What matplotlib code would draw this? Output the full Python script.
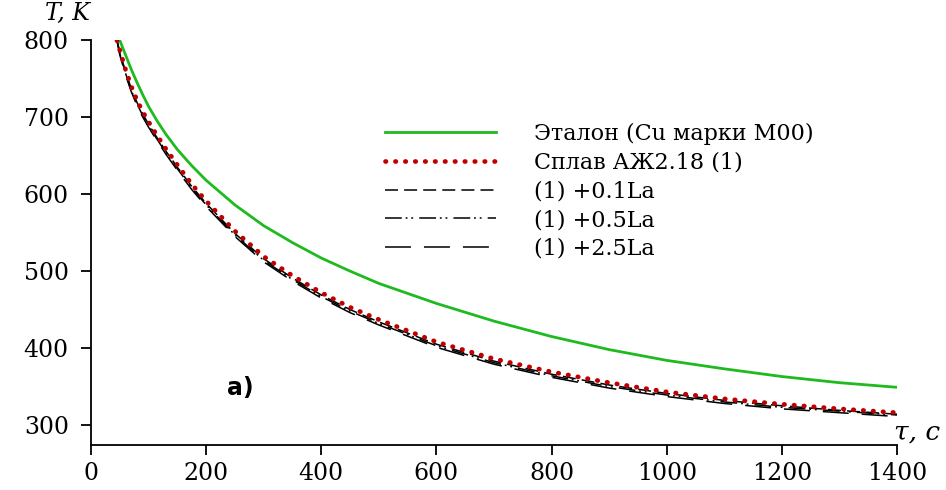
import numpy as np
import matplotlib
matplotlib.use('Agg')
import matplotlib.pyplot as plt

# Cooling curves, time in seconds and temperature in K
tau_ref = [50, 60, 70, 80, 90, 100, 115, 130, 150, 175, 200, 250, 300, 350,
           400, 450, 500, 600, 700, 800, 900, 1000, 1100, 1200, 1300, 1400]
T_ref   = [800, 781, 762, 745, 729, 714, 695, 678, 658, 637, 618, 586, 559, 537,
           517, 500, 484, 458, 435, 415, 398, 384, 373, 363, 355, 349]

tau_alloy = [45, 50, 60, 70, 80, 90, 100, 115, 130, 150, 175, 200, 250, 300,
             350, 400, 450, 500, 600, 700, 800, 900, 1000, 1100, 1200, 1300, 1400]
T_alloy   = [800, 787, 762, 740, 722, 707, 694, 676, 659, 638, 613, 591, 552, 519,
             494, 472, 453, 437, 408, 386, 369, 355, 343, 334, 327, 321, 316]
T_la01    = [800, 785, 759, 737, 719, 704, 691, 673, 656, 635, 610, 588, 549, 516,
             491, 469, 450, 434, 405, 383, 366, 352, 341, 332, 325, 319, 314]
T_la05    = [800, 783, 757, 735, 717, 702, 689, 671, 654, 633, 608, 586, 547, 514,
             489, 467, 448, 432, 403, 381, 364, 350, 339, 330, 323, 318, 313]
T_la25    = [800, 781, 755, 733, 715, 700, 687, 669, 652, 631, 606, 584, 545, 512,
             487, 465, 446, 430, 401, 379, 362, 348, 337, 328, 321, 316, 311]

labels = ['Эталон (Cu марки М00)', 'Сплав АЖ2.18 (1)',
          '(1) +0.1La', '(1) +0.5La', '(1) +2.5La']

x_ticks = [0, 200, 400, 600, 800, 1000, 1200, 1400]
y_ticks = [300, 400, 500, 600, 700, 800]

fig = plt.figure(figsize=(9.46, 4.90), dpi=100)
ax = fig.add_axes([0.0962, 0.0918, 0.852, 0.826])

ax.plot(tau_ref, T_ref, color='#1fba1f', lw=2.0, label=labels[0])
ax.plot(tau_alloy, T_alloy, color='#c00000', lw=3.4, linestyle=(0, (0.1, 2.0)),
        dash_capstyle='round', label=labels[1], zorder=4)
ax.plot(tau_alloy, T_la01, color='k', lw=1.1, linestyle=(0, (8.5, 4)), label=labels[2])
ax.plot(tau_alloy, T_la05, color='k', lw=1.1,
        linestyle=(0, (11, 2.5, 1.2, 2.5, 1.2, 4)), label=labels[3])
ax.plot(tau_alloy, T_la25, color='k', lw=1.1, linestyle=(0, (17, 8.5)), label=labels[4])

ax.set_xlim(0, 1400)
ax.set_ylim(274, 800)
ax.set_xticks(x_ticks)
ax.set_yticks(y_ticks)

for side in ['top', 'right']:
    ax.spines[side].set_visible(False)
for side in ['left', 'bottom']:
    ax.spines[side].set_linewidth(1.3)
ax.tick_params(axis='both', direction='out', length=7, width=1.3, labelsize=17)
ax.tick_params(axis='x', pad=5)
ax.tick_params(axis='y', pad=9)
for lab in ax.get_xticklabels() + ax.get_yticklabels():
    lab.set_fontfamily('DejaVu Serif')

leg = ax.legend(loc='upper left', bbox_to_anchor=(0.34, 0.845), frameon=False,
                handlelength=5.0, handletextpad=1.7, labelspacing=0.3,
                prop={'family': 'DejaVu Serif', 'size': 16})

fig.text(0.048, 0.972, 'T, K', fontsize=17, family='DejaVu Serif',
         style='italic', ha='left', va='center')
fig.text(0.945, 0.118, 'τ, c', fontsize=19, family='DejaVu Serif',
         style='italic', ha='left', va='center')
ax.text(0.185, 0.141, 'a)', transform=ax.transAxes, fontsize=17,
        fontweight='bold', family='DejaVu Sans', ha='center', va='center')

fig.savefig('out.png', dpi=100)
